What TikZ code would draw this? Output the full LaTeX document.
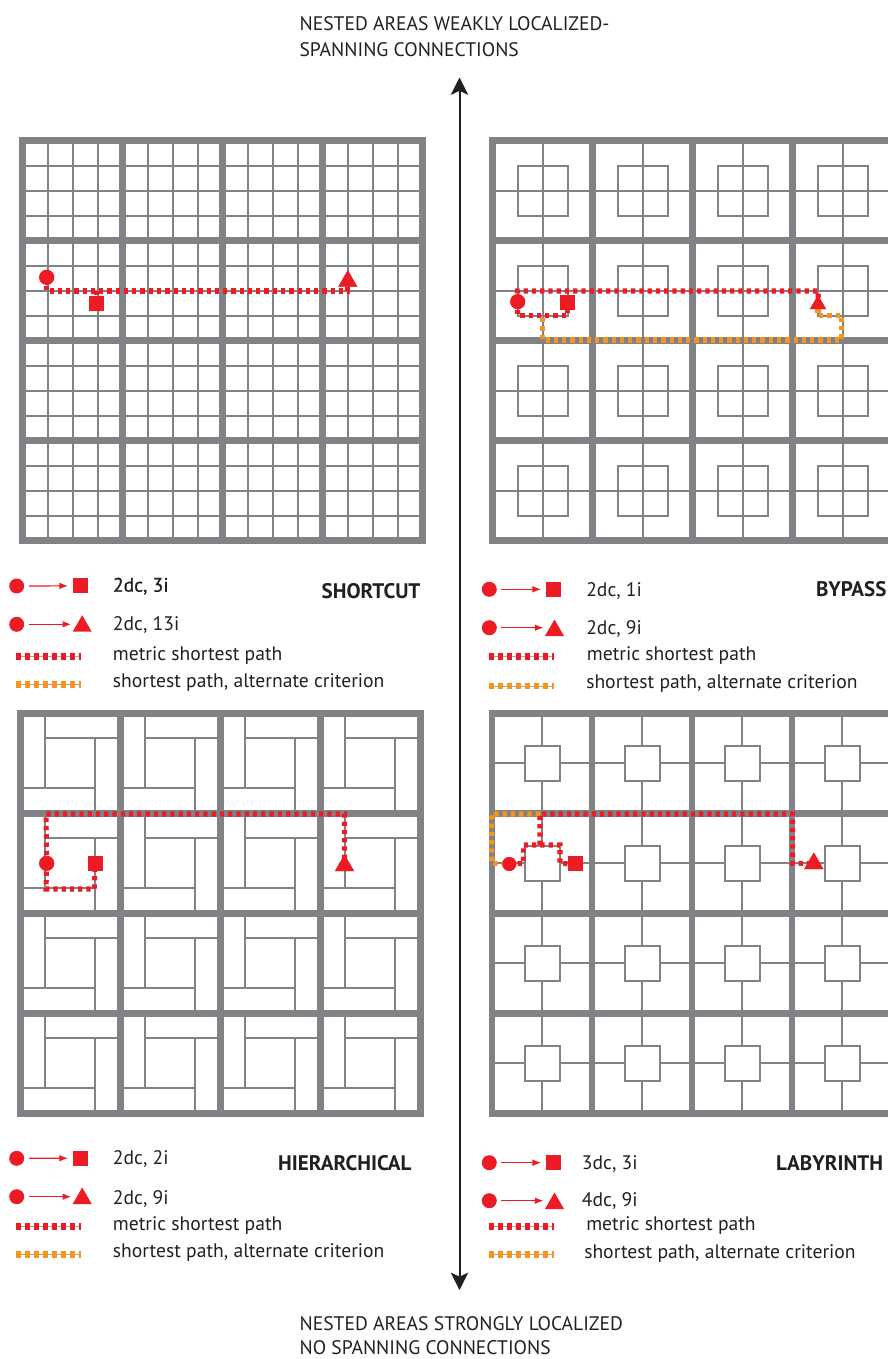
\documentclass[tikz,border=0pt]{standalone}
\usepackage{fontspec}
\setmainfont{PT Sans}
\newfontfamily\semibfont[FakeBold=0.8]{PT Sans}
\usetikzlibrary{arrows.meta,shapes.geometric}
\definecolor{gridgray}{RGB}{128,130,133}
\definecolor{pathred}{RGB}{237,28,36}
\definecolor{pathorange}{RGB}{247,148,29}
\definecolor{txt}{RGB}{35,31,32}
\newcommand\myframe[2]{%
  \draw[thickgrid] (#1,#2) rectangle ++(400,400);
  \foreach \k in {100,200,300}{
    \draw[thickgrid] ({#1+\k},#2) -- ++(0,400);
    \draw[thickgrid] (#1,{#2+\k}) -- ++(400,0);
  }}
\begin{document}
\begin{tikzpicture}[x=0.75pt,y=-0.75pt,
  thickgrid/.style={draw=gridgray,line width=4.9pt},
  thingrid/.style={draw=gridgray,line width=1.5pt},
  redpath/.style={draw=pathred,line width=3.8pt,dash pattern=on 3.2pt off 3pt},
  orangepath/.style={draw=pathorange,line width=3.8pt,dash pattern=on 3.2pt off 3pt},
  dot/.style={circle,fill=pathred,inner sep=0pt,outer sep=0pt,minimum size=11.25pt},
  sq/.style={rectangle,fill=pathred,inner sep=0pt,outer sep=0pt,minimum size=11.25pt},
  tri/.style={regular polygon,regular polygon sides=3,fill=pathred,inner sep=0pt,outer sep=0pt,minimum size=16.5pt,anchor=south},
  legarrow/.style={draw=pathred,line width=0.9pt,-{Latex[length=6.5pt,width=5pt]},shorten <=3.5pt,shorten >=3.5pt},
  legbase/.style={draw=gray!70,line width=0.6pt},
  legred/.style={draw=pathred,line width=5.2pt,dash pattern=on 3.5pt off 3.25pt},
  legorange/.style={draw=pathorange,line width=5.2pt,dash pattern=on 3.5pt off 3.25pt},
  lbl/.style={anchor=base west,inner sep=0pt,text=txt,font=\fontsize{14.7}{18}\selectfont},
  ttl/.style={anchor=base east,inner sep=0pt,text=txt,font=\fontsize{15.8}{18}\selectfont\bfseries},
  head/.style={anchor=north west,inner sep=0pt,text=txt,align=left,font=\fontsize{14.7}{19.5}\selectfont},
  axis/.style={draw=txt,line width=1.5pt,{Stealth[length=13pt,width=13pt,inset=3pt]}-{Stealth[length=13pt,width=13pt,inset=3pt]}}
]
\useasboundingbox (0,0) rectangle (888,1359);
\clip (0,0) rectangle (888,1359);

% ---------- SHORTCUT grid ----------
\foreach \k in {25,50,...,375}{
  \draw[thingrid] ({22.7+\k},140.7) -- ++(0,400);
  \draw[thingrid] (22.7,{140.7+\k}) -- ++(400,0);
}
\myframe{22.7}{140.7}

% ---------- BYPASS grid ----------
\foreach \i in {0,...,3}{\foreach \j in {0,...,3}{
  \begin{scope}[shift={({492.7+100*\i},{140.7+100*\j})}]
    \draw[thingrid] (25,25) rectangle (75,75);
    \draw[thingrid] (50,0) -- (50,100);
    \draw[thingrid] (0,50) -- (100,50);
  \end{scope}}}
\myframe{492.7}{140.7}

% ---------- HIERARCHICAL grid ----------
\foreach \i in {0,...,3}{\foreach \j in {0,...,3}{
  \begin{scope}[shift={({20.3+100*\i},{713.3+100*\j})}]
    \draw[thingrid] (25,0) -- (25,75);
    \draw[thingrid] (25,25) -- (100,25);
    \draw[thingrid] (75,25) -- (75,100);
    \draw[thingrid] (0,75) -- (75,75);
  \end{scope}}}
\myframe{20.3}{713.3}

% ---------- LABYRINTH grid ----------
\foreach \i in {0,...,3}{\foreach \j in {0,...,3}{
  \begin{scope}[shift={({492+100*\i},{713.3+100*\j})}]
    \draw[thingrid] (32.5,32.5) rectangle (67.5,67.5);
    \draw[thingrid] (50,0) -- (50,32.5);
    \draw[thingrid] (50,67.5) -- (50,100);
    \draw[thingrid] (0,50) -- (32.5,50);
    \draw[thingrid] (67.5,50) -- (100,50);
  \end{scope}}}
\myframe{492}{713.3}

% ---------- markers ----------
\node[dot] (c1) at (46.7,277.3) {};
\node[sq] (s1) at (96.8,303.3) {};
\node[tri] (t1) at (347.8,286.7) {};
\node[dot] (c2) at (517.7,301.7) {};
\node[sq] (s2) at (567.5,302.5) {};
\node[tri,minimum size=13.9pt] (t2) at (818,309) {};
\node[dot] (c3) at (46.7,863.3) {};
\node[sq] (s3) at (95.2,863.3) {};
\node[tri] (t3) at (344.5,871) {};
\node[dot,minimum size=10.5pt] (c4) at (509.3,864) {};
\node[sq] (s4) at (575.8,863.8) {};
\node[tri] (t4) at (813.8,869) {};

% ---------- path corners ----------
\coordinate (p1a) at (46.7,291);  \coordinate (p1b) at (347.8,291);
\coordinate (p2a) at (517.7,291); \coordinate (p2b) at (818.3,291);
\coordinate (p2c) at (517.7,315.7); \coordinate (p2d) at (567.5,315.7);
\coordinate (o2a) at (542.7,318); \coordinate (o2b) at (542.7,340);
\coordinate (o2c) at (841.7,340); \coordinate (o2d) at (841.7,315.7);
\coordinate (o2e) at (818,315.7);
\coordinate (p3a) at (46,814); \coordinate (p3b) at (344.5,814);
\coordinate (p3c) at (46,889); \coordinate (p3d) at (94.3,889);
\coordinate (p4a) at (523.3,863.5); \coordinate (p4b) at (523.3,845);
\coordinate (p4c) at (560,845); \coordinate (p4d) at (560,863.5);
\coordinate (p4e) at (540,845); \coordinate (p4f) at (540,814);
\coordinate (p4g) at (792.7,814); \coordinate (p4h) at (792.7,863.3);
\coordinate (o4a) at (491.7,814); \coordinate (o4b) at (491.7,863.3);

% ---------- paths ----------
\draw[orangepath] (o2a) -- (o2b) -- (o2c) -- (o2d) -- (o2e) -- (t2.south);
\draw[orangepath] (p4f) -- (o4a) -- (o4b) -- (c4.center);
\draw[redpath] (c1.center) -- (p1a) -- (p1b) -- (t1.south);
\draw[redpath] (s1.center) -- (s1.center |- p1a);
\draw[redpath] (c2.center) -- (p2a) -- (p2b) -- (t2.south);
\draw[redpath] (c2.center) -- (p2c) -- (p2d) -- (s2.center);
\draw[redpath] (c3.center) -- (p3a) -- (p3b) -- (t3.center);
\draw[redpath] (c3.center) -- (p3c) -- (p3d) -- (s3.center);
\draw[redpath] (c4.center) -- (p4a) -- (p4b) -- (p4c) -- (p4d) -- (s4.center);
\draw[redpath] (p4e) -- (p4f) -- (p4g) -- (p4h) -- (t4.center);

% redraw markers on top
\fill[pathred] (c1) circle (5.63pt);
\fill[pathred] (c2) circle (5.63pt);
\fill[pathred] (c3) circle (5.63pt);
\fill[pathred] (c4) circle (5.25pt);
\node[sq] at (s1) {}; \node[sq] at (s2) {}; \node[sq] at (s3) {}; \node[sq] at (s4) {};
\node[tri] at (347.8,286.7) {}; \node[tri,minimum size=13.9pt] at (818,309) {};
\node[tri] at (344.5,871) {}; \node[tri] at (813.8,869) {};

% ---------- central axis ----------
\node[head] (toptxt) at (299.3,16.7) {NESTED AREAS WEAKLY LOCALIZED-\\SPANNING CONNECTIONS};
\node[head,font=\fontsize{14.7}{18}\selectfont] (bottxt) at (299.3,1316) {NESTED AREAS STRONGLY LOCALIZED\\NO SPANNING CONNECTIONS};
\coordinate (atop) at (459.5,77.5);
\coordinate (abot) at (459.5,1290);
\draw[axis] (atop) -- (abot);

% ---------- legend: SHORTCUT ----------
\node[dot] (la1) at (16.7,586) {};
\node[sq] (lb1) at (80.2,585.8) {};
\draw[legarrow] (la1) -- (lb1);
\node[dot] (la2) at (16.7,624.3) {};
\node[tri] (lb2) at (82.2,631.7) {};
\draw[legarrow] (la2) -- (lb2.west |- la2);
\node[lbl,font=\fontsize{14.7}{18}\semibfont] (lt1) at (112.7,591.7) {2dc, 3i};
\node[lbl] (lt2) at (112.7,630) {2dc, 13i};
\node[ttl] (n1) at (420.7,598.3) {SHORTCUT};
\coordinate (lr1a) at (16,656.7); \coordinate (lr1b) at (81,656.7);
\draw[legbase] (lr1a) -- (lr1b); \draw[legred] (lr1a) -- (lr1b);
\node[lbl] (lt3) at (112.7,660) {metric shortest path};
\coordinate (lo1a) at (16,684.3); \coordinate (lo1b) at (81,684.3);
\draw[legbase] (lo1a) -- (lo1b); \draw[legorange] (lo1a) -- (lo1b);
\node[lbl] (lt4) at (112.7,687.7) {shortest path, alternate criterion};

% ---------- legend: BYPASS ----------
\node[dot] (la3) at (489.3,589.3) {};
\node[sq] (lb3) at (553.3,589.3) {};
\draw[legarrow] (la3) -- (lb3);
\node[dot] (la4) at (489.3,627.7) {};
\node[tri] (lb4) at (554.5,636) {};
\draw[legarrow] (la4) -- (lb4.west |- la4);
\node[lbl] (lt5) at (586,596) {2dc, 1i};
\node[lbl] (lt6) at (586,634) {2dc, 9i};
\node[ttl] (n2) at (886.7,596) {BYPASS};
\coordinate (lr2a) at (489.3,656.7); \coordinate (lr2b) at (554.3,656.7);
\draw[legbase] (lr2a) -- (lr2b); \draw[legred] (lr2a) -- (lr2b);
\node[lbl] (lt7) at (586.7,660) {metric shortest path};
\coordinate (lo2a) at (489.3,686); \coordinate (lo2b) at (554.3,686);
\draw[legbase] (lo2a) -- (lo2b); \draw[legorange] (lo2a) -- (lo2b);
\node[lbl] (lt8) at (586,688.3) {shortest path, alternate criterion};

% ---------- legend: HIERARCHICAL ----------
\node[dot] (la5) at (16.7,1158.3) {};
\node[sq] (lb5) at (80.2,1158.2) {};
\draw[legarrow] (la5) -- (lb5);
\node[dot] (la6) at (16.7,1196.7) {};
\node[tri] (lb6) at (82.2,1204) {};
\draw[legarrow] (la6) -- (lb6.west |- la6);
\node[lbl] (lt9) at (112.7,1164.3) {2dc, 2i};
\node[lbl] (lt10) at (112.7,1204) {2dc, 9i};
\node[ttl] (n3) at (411.7,1170.7) {HIERARCHICAL};
\coordinate (lr3a) at (16,1226.7); \coordinate (lr3b) at (81,1226.7);
\draw[legbase] (lr3a) -- (lr3b); \draw[legred] (lr3a) -- (lr3b);
\node[lbl] (lt11) at (112.7,1230) {metric shortest path};
\coordinate (lo3a) at (16,1254.3); \coordinate (lo3b) at (81,1254.3);
\draw[legbase] (lo3a) -- (lo3b); \draw[legorange] (lo3a) -- (lo3b);
\node[lbl] (lt12) at (112.7,1257.7) {shortest path, alternate criterion};

% ---------- legend: LABYRINTH ----------
\node[dot] (la7) at (489.3,1162.7) {};
\node[sq] (lb7) at (553.3,1162.7) {};
\draw[legarrow] (la7) -- (lb7);
\node[dot] (la8) at (489.3,1200.7) {};
\node[tri] (lb8) at (554.5,1209) {};
\draw[legarrow] (la8) -- (lb8.west |- la8);
\node[lbl] (lt13) at (581.7,1169.3) {3dc, 3i};
\node[lbl] (lt14) at (581.7,1206.7) {4dc, 9i};
\node[ttl] (n4) at (883.3,1170) {LABYRINTH};
\coordinate (lr4a) at (489.3,1226.7); \coordinate (lr4b) at (554.3,1226.7);
\draw[legbase] (lr4a) -- (lr4b); \draw[legred] (lr4a) -- (lr4b);
\node[lbl] (lt15) at (586,1230) {metric shortest path};
\coordinate (lo4a) at (489.3,1254.3); \coordinate (lo4b) at (554.3,1254.3);
\draw[legbase] (lo4a) -- (lo4b); \draw[legorange] (lo4a) -- (lo4b);
\node[lbl] (lt16) at (584,1258.3) {shortest path, alternate criterion};
\end{tikzpicture}
\end{document}
